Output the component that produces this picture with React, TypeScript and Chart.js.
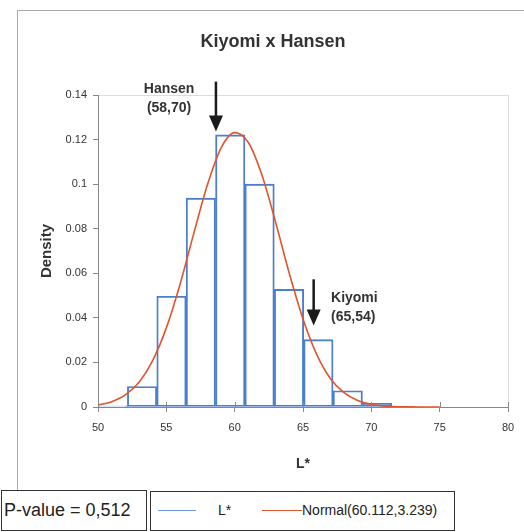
import React, { useEffect, useRef } from 'react';
import { Chart, registerables } from 'chart.js';

Chart.register(...registerables);

// ---------- Texts ----------
const TITLE = 'Kiyomi x Hansen';
const X_TITLE = 'L*';
const Y_TITLE = 'Density';
const HIST_LABEL = 'L*';
const NORMAL_LABEL = 'Normal(60.112,3.239)';
const P_VALUE_TEXT = 'P-value = 0,512';

// ---------- Histogram ----------
const BIN_LEFT_EDGES = [50, 52.15, 54.3, 56.45, 58.6, 60.75, 62.9, 65.05, 67.2, 69.35];
const BIN_WIDTH = 2.15;
const BIN_DENSITY = [0.0005, 0.0092, 0.0497, 0.0937, 0.1221, 0.1, 0.0528, 0.0302, 0.0073, 0.0017];

// ---------- Fitted normal curve ----------
const NORMAL_X = [50, 51, 52, 53, 54, 55, 56, 57, 58, 59, 60, 61, 62, 63, 64, 65, 66, 67, 68, 69, 70, 71, 72, 73, 74, 75];
const NORMAL_Y = [
  0.0009, 0.0024, 0.0054, 0.0111, 0.0208, 0.0355, 0.055, 0.0777, 0.0996, 0.1162, 0.1231, 0.1187, 0.104,
  0.0828, 0.0599, 0.0395, 0.0236, 0.0128, 0.0064, 0.0029, 0.0012, 0.0004, 0.0001, 0.00005, 0.00001, 0,
];

// ---------- Axes ----------
const X_MIN = 50;
const X_MAX = 80;
const X_STEP = 5;
const Y_MIN = 0;
const Y_MAX = 0.14;
const Y_STEP = 0.02;

// ---------- Annotations (data coordinates) ----------
const ANNOTATION_TEXTS = [
  ['Hansen', '(58,70)'],
  ['Kiyomi', '(65,54)'],
];
const ARROW_X = [58.63, 65.78];
const ARROW_TOP = [0.146, 0.0573];
const ARROW_TIP = [0.1236, 0.0366];
const LABEL_X = [55.2, 67.05];
const LABEL_Y = [0.1426, 0.0488];
const LABEL_ALIGN: CanvasTextAlign[] = ['center', 'left'];

const FONT = '"Liberation Sans", Arial, Helvetica, sans-serif';
const BLUE = '#4a7fd0';
const RED = '#e0542e';
const TEXT = '#333333';

const annotationPlugin = {
  id: 'arrowNotes',
  afterDatasetsDraw(chart: any) {
    const { ctx, scales } = chart;
    const x = scales.x;
    const y = scales.y;
    ctx.save();
    // upward part of the crossing tick marks on the x axis
    ctx.strokeStyle = '#888';
    ctx.lineWidth = 1;
    const yb = chart.chartArea.bottom;
    x.ticks.forEach((t: any) => {
      const px = Math.round(x.getPixelForValue(t.value)) + 0.5;
      ctx.beginPath();
      ctx.moveTo(px, yb);
      ctx.lineTo(px, yb - 5);
      ctx.stroke();
    });
    for (let i = 0; i < ANNOTATION_TEXTS.length; i++) {
      const px = x.getPixelForValue(ARROW_X[i]);
      const top = y.getPixelForValue(ARROW_TOP[i]);
      const tip = y.getPixelForValue(ARROW_TIP[i]);
      const headH = 16;
      const headW = 14;
      ctx.strokeStyle = '#1a1a1a';
      ctx.fillStyle = '#1a1a1a';
      ctx.lineWidth = 2.5;
      ctx.beginPath();
      ctx.moveTo(px, top);
      ctx.lineTo(px, tip - headH + 1);
      ctx.stroke();
      ctx.beginPath();
      ctx.moveTo(px - headW / 2, tip - headH);
      ctx.lineTo(px + headW / 2, tip - headH);
      ctx.lineTo(px, tip);
      ctx.closePath();
      ctx.fill();
      ctx.font = `bold 14px ${FONT}`;
      ctx.textAlign = LABEL_ALIGN[i];
      ctx.textBaseline = 'middle';
      ctx.fillStyle = TEXT;
      const lx = x.getPixelForValue(LABEL_X[i]);
      const ly = y.getPixelForValue(LABEL_Y[i]);
      ANNOTATION_TEXTS[i].forEach((s, k) => ctx.fillText(s, lx, ly + k * 19));
    }
    ctx.restore();
  },
};

export default function App() {
  const canvasRef = useRef<HTMLCanvasElement | null>(null);

  useEffect(() => {
    if (!canvasRef.current) return;
    const chart = new Chart(canvasRef.current, {
      type: 'bar',
      data: {
        datasets: [
          {
            type: 'line',
            label: NORMAL_LABEL,
            data: NORMAL_X.map((v, i) => ({ x: v, y: NORMAL_Y[i] })),
            borderColor: RED,
            backgroundColor: RED,
            borderWidth: 1.6,
            pointRadius: 0,
            cubicInterpolationMode: 'monotone',
            fill: false,
            order: 0,
          } as any,
          {
            type: 'bar',
            label: HIST_LABEL,
            data: BIN_LEFT_EDGES.map((e, i) => ({ x: e + BIN_WIDTH / 2, y: BIN_DENSITY[i] })),
            backgroundColor: 'rgba(255,255,255,0)',
            borderColor: BLUE,
            borderWidth: 1.25,
            borderSkipped: false,
            barPercentage: 1,
            categoryPercentage: 1,
            order: 1,
          } as any,
        ],
      },
      options: {
        responsive: false,
        maintainAspectRatio: false,
        animation: false,
        layout: { padding: { left: 38, right: 16, top: 0, bottom: 59 } },
        plugins: {
          legend: { display: false },
          tooltip: { enabled: false },
          title: {
            display: true,
            text: TITLE,
            color: TEXT,
            font: { family: FONT, size: 18, weight: 'bold' },
            padding: { top: 31.5, bottom: 41.9 },
          },
        },
        scales: {
          x: {
            type: 'linear',
            min: X_MIN,
            max: X_MAX,
            offset: false,
            grid: {
              offset: false,
              drawOnChartArea: true,
              color: (c: any) => (c.tick && c.tick.value === X_MAX ? '#dcdcdc' : 'rgba(0,0,0,0)'),
              tickColor: '#888',
              tickLength: 5,
            },
            border: { color: '#888', width: 1 },
            ticks: {
              stepSize: X_STEP,
              color: TEXT,
              font: { family: FONT, size: 11 },
              padding: 9,
              maxRotation: 0,
              callback: (v: any) => String(v),
            },
            title: {
              display: true,
              text: X_TITLE,
              color: TEXT,
              font: { family: FONT, size: 14, weight: 'bold' },
              padding: 0,
            },
            afterFit: (s: any) => {
              s.height = 66;
            },
          } as any,
          y: {
            type: 'linear',
            min: Y_MIN,
            max: Y_MAX,
            grid: {
              drawOnChartArea: true,
              color: (c: any) => (c.tick && Math.abs(c.tick.value - Y_MAX) < 1e-9 ? '#dcdcdc' : 'rgba(0,0,0,0)'),
              tickColor: '#888',
              tickLength: 5,
            },
            border: { color: '#888', width: 1 },
            ticks: {
              stepSize: Y_STEP,
              color: TEXT,
              font: { family: FONT, size: 11 },
              padding: 6,
              callback: (v: any) => String(+Number(v).toFixed(2)),
            },
            title: {
              display: true,
              text: Y_TITLE,
              color: TEXT,
              font: { family: FONT, size: 15, weight: 'bold' },
              padding: 0,
            },
            afterFit: (s: any) => {
              s.width = 60;
            },
          } as any,
        },
      },
      plugins: [annotationPlugin],
    });
    return () => chart.destroy();
  }, []);

  return (
    <div
      style={{
        position: 'fixed',
        left: 0,
        top: 0,
        width: 524,
        height: 532,
        overflow: 'hidden',
        background: '#fff',
        fontFamily: FONT,
      }}
    >
      <div
        style={{
          position: 'absolute',
          left: 17,
          top: 10,
          width: 560,
          height: 480,
          borderTop: '1px solid #a8a8a8',
          borderLeft: '1px solid #a8a8a8',
        }}
      />
      <canvas
        ref={canvasRef}
        width={524}
        height={532}
        style={{ position: 'absolute', left: 0, top: 0, width: 524, height: 532, display: 'block' }}
      />
      <div
        style={{
          position: 'absolute',
          left: 1,
          top: 490,
          width: 146,
          height: 41,
          boxSizing: 'border-box',
          border: '1.5px solid #333',
          background: '#fff',
          fontSize: 18,
          lineHeight: '38px',
          paddingLeft: 2,
          color: '#222',
          whiteSpace: 'nowrap',
        }}
      >
        {P_VALUE_TEXT}
      </div>
      <div
        style={{
          position: 'absolute',
          left: 150,
          top: 491,
          width: 305,
          height: 40,
          boxSizing: 'border-box',
          border: '1.5px solid #333',
          background: '#fff',
          color: '#222',
          fontSize: 14,
          whiteSpace: 'nowrap',
        }}
      >
        <span style={{ position: 'absolute', left: 7, top: 18, width: 38, height: 0, borderTop: '1.5px solid #6b98dc' }} />
        <span style={{ position: 'absolute', left: 67, top: 10, lineHeight: '16px' }}>{HIST_LABEL}</span>
        <span style={{ position: 'absolute', left: 111, top: 18, width: 40, height: 0, borderTop: '1.5px solid ' + RED }} />
        <span style={{ position: 'absolute', left: 151, top: 10, lineHeight: '16px' }}>{NORMAL_LABEL}</span>
      </div>
    </div>
  );
}
